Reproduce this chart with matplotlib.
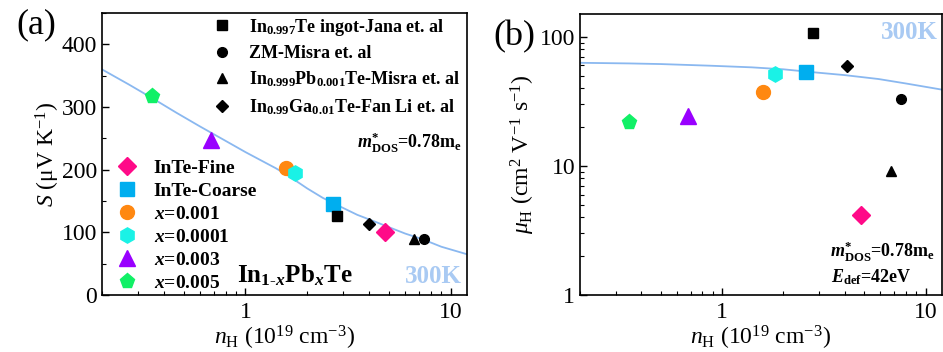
import matplotlib
matplotlib.use("Agg")
import matplotlib.pyplot as plt
import numpy as np
from matplotlib import ticker

plt.rcParams['font.family'] = ['Liberation Serif', 'DejaVu Serif']
plt.rcParams['mathtext.fontset'] = 'custom'
plt.rcParams['mathtext.rm'] = 'Liberation Serif'
plt.rcParams['mathtext.it'] = 'Liberation Serif:italic'
plt.rcParams['mathtext.bf'] = 'Liberation Serif:bold'
plt.rcParams['mathtext.bfit'] = 'Liberation Serif:bold:italic'

# this work, In1-xPbxTe samples
names = ["InTe-Fine", "InTe-Coarse", r"$\mathbfit{x}$=0.001",
         r"$\mathbfit{x}$=0.0001", r"$\mathbfit{x}$=0.003", r"$\mathbfit{x}$=0.005"]
markers = ["D", "s", "o", "h", "^", "p"]
colors = ["#FF0A88", "#00AEEF", "#FF8811", "#1AF2E6", "#9900FF", "#11F066"]
n_S = [4.78, 2.66, 1.57, 1.75, 0.68, 0.352]
S = [100, 145, 202, 195, 247, 317]
n_mu = [4.82, 2.57, 1.58, 1.81, 0.68, 0.348]
mu = [4.17, 53.4, 37.6, 51.5, 24.5, 21.7]

# literature points
lit_names = [r"In$_{\mathbf{0.997}}$Te ingot-Jana et. al",
             "ZM-Misra et. al",
             r"In$_{\mathbf{0.999}}$Pb$_{\mathbf{0.001}}$Te-Misra et. al",
             r"In$_{\mathbf{0.99}}$Ga$_{\mathbf{0.01}}$Te-Fan Li et. al"]
lit_markers = ["s", "o", "^", "D"]
lit_n_S = [2.80, 7.42, 6.64, 3.98]
lit_S = [126, 89, 89, 113]
lit_n_mu = [2.79, 7.53, 6.77, 4.11]
lit_mu = [107, 33, 9.2, 59.4]

# model curves (SPB, m*=0.78me)
curve_n_S = [0.2, 0.27, 0.356, 0.46, 0.60, 0.78, 1.0, 1.41, 1.64, 2.0, 2.38, 2.9, 3.5, 4.2, 5.02, 6.0, 7.28, 9.0, 12.0]
curve_S = [360, 336, 313, 291, 269, 248, 228, 202, 189, 170, 155, 141, 128, 118, 108, 98, 89, 77, 65]
curve_n_mu = [0.2, 0.35, 0.5, 0.88, 1.4, 2.0, 2.75, 4.0, 5.87, 8.0, 12.0]
curve_mu = [62.9, 62.2, 61.5, 59.7, 58.0, 56.0, 53.3, 50.5, 47.1, 43.5, 39.0]

line_col = "#8AB8F0"
k_col = "#A9CAF3"

fig = plt.figure(figsize=(9.43, 3.52), dpi=100)
ax1 = fig.add_axes([0.1082, 0.162, 0.387, 0.801])
ax2 = fig.add_axes([0.615, 0.162, 0.3836, 0.798])

# ---- (a) Seebeck
ax1.plot(curve_n_S, curve_S, color=line_col, lw=1.3, zorder=1)
h_lit = []
for i in range(len(lit_names)):
    ms = 7 if lit_markers[i] != "D" else 6
    h, = ax1.plot(lit_n_S[i], lit_S[i], lit_markers[i], color="k", ms=ms,
                  ls="none", label=lit_names[i], zorder=3)
    h_lit.append(h)
h_own = []
for i in range(len(names)):
    ms = 10 if markers[i] != "D" else 9.5
    if markers[i] in ("^", "p", "h"):
        ms = 11
    h, = ax1.plot(n_S[i], S[i], markers[i], color=colors[i], ms=ms,
                  ls="none", label=names[i], zorder=2)
    h_own.append(h)

ax1.set_xscale("log")
ax1.set_xlim(0.2, 12)
ax1.set_ylim(0, 450)
ax1.yaxis.set_major_locator(ticker.MultipleLocator(100))
ax1.yaxis.set_minor_locator(ticker.MultipleLocator(50))
ax1.xaxis.set_major_formatter(ticker.FuncFormatter(lambda v, p: "%g" % v))
ax1.set_xlabel(r"$n_\mathrm{H}$ (10$^{19}$ cm$^{-3}$)", fontsize=17, labelpad=1)
ax1.set_ylabel(r"$S$ ($\mathrm{\mu}$V K$^{-1}$)", fontsize=17, labelpad=0)

leg1 = ax1.legend(handles=h_lit, loc="upper right", bbox_to_anchor=(1.025, 1.045),
                  frameon=False, prop={"weight": "bold", "size": 13},
                  handlelength=1.0, handletextpad=1.0, labelspacing=0.42)
ax1.add_artist(leg1)
ax1.legend(handles=h_own, loc="lower left", bbox_to_anchor=(-0.005, -0.05),
           frameon=False, prop={"weight": "bold", "size": 14},
           handlelength=1.0, handletextpad=0.85, labelspacing=0.27)

ax1.text(0.985, 0.54, r"$\mathbfit{m}^{\mathbf{*}}_{\mathbf{DOS}}$=0.78m$_{\mathbf{e}}$",
         transform=ax1.transAxes, ha="right", va="center", fontsize=13, weight="bold")
ax1.text(0.37, 0.07, r"In$_{\mathbf{1\text{-}}\mathbfit{x}}$Pb$_{\mathbfit{x}}$Te",
         transform=ax1.transAxes, ha="left", va="center", fontsize=18, weight="bold")
ax1.text(0.985, 0.065, "300K", transform=ax1.transAxes, ha="right", va="center",
         fontsize=18, weight="bold", color=k_col)
fig.text(0.017, 0.93, "(a)", fontsize=26, ha="left", va="center")

# ---- (b) mobility
ax2.plot(curve_n_mu, curve_mu, color=line_col, lw=1.3, zorder=1)
for i in range(len(lit_names)):
    ms = 7 if lit_markers[i] != "D" else 6
    ax2.plot(lit_n_mu[i], lit_mu[i], lit_markers[i], color="k", ms=ms, ls="none", zorder=3)
for i in range(len(names)):
    ms = 10 if markers[i] != "D" else 9.5
    if markers[i] in ("^", "p", "h"):
        ms = 11
    ax2.plot(n_mu[i], mu[i], markers[i], color=colors[i], ms=ms, ls="none", zorder=2)

ax2.set_xscale("log")
ax2.set_yscale("log")
ax2.set_xlim(0.2, 12)
ax2.set_ylim(1, 150)
ax2.xaxis.set_major_formatter(ticker.FuncFormatter(lambda v, p: "%g" % v))
ax2.yaxis.set_major_formatter(ticker.FuncFormatter(lambda v, p: "%g" % v))
ax2.set_xlabel(r"$n_\mathrm{H}$ (10$^{19}$ cm$^{-3}$)", fontsize=17, labelpad=1)
ax2.set_ylabel(r"$\mu_\mathrm{H}$ (cm$^{2}$ V$^{-1}$ s$^{-1}$)", fontsize=17, labelpad=2)

ax2.text(0.98, 0.155, r"$\mathbfit{m}^{\mathbf{*}}_{\mathbf{DOS}}$=0.78m$_{\mathbf{e}}$",
         transform=ax2.transAxes, ha="right", va="center", fontsize=13, weight="bold")
ax2.text(0.695, 0.065, r"$\mathbfit{E}_{\mathbf{def}}$=42eV",
         transform=ax2.transAxes, ha="left", va="center", fontsize=13, weight="bold")
ax2.text(0.99, 0.935, "300K", transform=ax2.transAxes, ha="right", va="center",
         fontsize=18, weight="bold", color=k_col)
fig.text(0.523, 0.895, "(b)", fontsize=26, ha="left", va="center")

for ax in (ax1, ax2):
    ax.tick_params(which="both", direction="in", labelsize=17)
    ax.tick_params(which="major", length=5, width=1)
    ax.tick_params(which="minor", length=3, width=0.8)
    ax.tick_params(axis="x", pad=5)
    for sp in ax.spines.values():
        sp.set_linewidth(1.2)

plt.savefig("out.png", dpi=100)
